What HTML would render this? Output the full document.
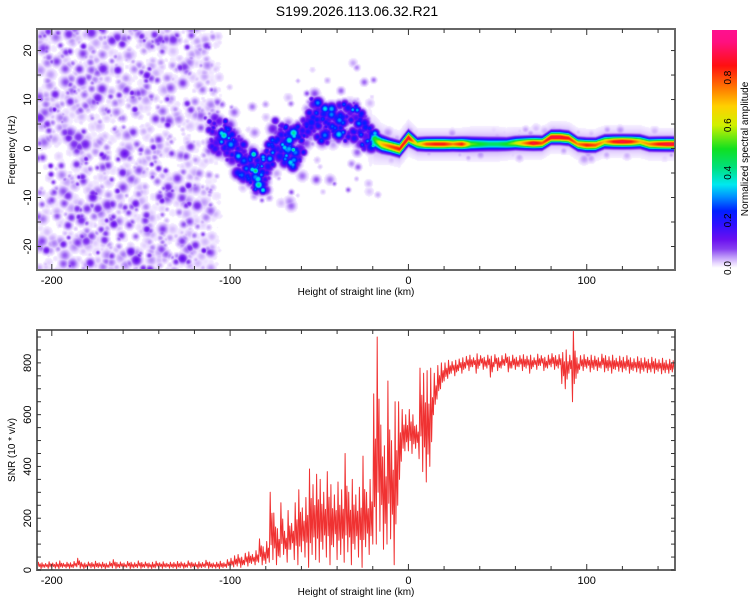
<!DOCTYPE html>
<html><head><meta charset="utf-8"><style>
body{margin:0;background:#fff;width:750px;height:600px;overflow:hidden;position:relative;font-family:"Liberation Sans",sans-serif}
#spec{position:absolute;left:37px;top:29px}
svg{position:absolute;left:0;top:0}
text{font-family:"Liberation Sans",sans-serif;fill:#000}
</style></head><body>
<canvas id="spec" width="638" height="241"></canvas>
<svg id="chart" width="750" height="600">
<defs><linearGradient id="cb" x1="0" y1="1" x2="0" y2="0">
<stop offset="0" stop-color="#ffffff"/><stop offset="0.02" stop-color="#e8d8ff"/><stop offset="0.05" stop-color="#b890f8"/><stop offset="0.08" stop-color="#8840f0"/><stop offset="0.12" stop-color="#6a10f0"/><stop offset="0.18" stop-color="#3010ff"/><stop offset="0.24" stop-color="#0020ff"/><stop offset="0.3" stop-color="#0090ff"/><stop offset="0.35" stop-color="#00e8f0"/><stop offset="0.42" stop-color="#00e080"/><stop offset="0.5" stop-color="#10e020"/><stop offset="0.6" stop-color="#d0f000"/><stop offset="0.68" stop-color="#ffd000"/><stop offset="0.75" stop-color="#ff8000"/><stop offset="0.85" stop-color="#ff1010"/><stop offset="0.95" stop-color="#ff1080"/><stop offset="1" stop-color="#ff1090"/>
</linearGradient>
<clipPath id="bclip"><rect x="37" y="330" width="638" height="240"/></clipPath></defs>
<text x="357" y="16" font-size="14" text-anchor="middle">S199.2026.113.06.32.R21</text>
<g id="top"></g>
<g id="bot"></g>
<rect x="712" y="30" width="25" height="238" fill="url(#cb)"/>
<g id="cbticks"></g>
<text transform="translate(748,149) rotate(-90)" font-size="10" text-anchor="middle">Normalized spectral amplitude</text>
</svg>
<script>
// ---- SNR data (2 km steps from -208 km) ----
const snrStartKm = -208;
const snrStepKm = 2;
const snrHigh = [30,28,25,32,27,30,35,26,30,28,33,45,30,27,31,29,34,28,30,26,32,40,29,31,27,33,30,28,35,29,31,27,30,34,28,32,26,30,29,33,31,27,35,30,28,32,29,38,31,27,30,34,28,40,
45,55,60,50,65,70,60,75,120,90,110,
300,220,160,260,150,230,180,260,310,240,280,390,330,370,350,300,380,330,290,340,310,450,300,350,290,320,440,300,350,680,
900,560,480,730,500,650,650,620,600,620,
600,560,780,760,770,780,760,790,800,800,810,805,810,815,820,
825,830,820,835,828,822,830,826,832,820,828,835,824,830,822,828,832,826,830,820,834,828,822,830,836,828,832,
840,850,830,930,820,
828,832,822,830,826,820,834,828,824,830,818,826,822,828,820,816,824,818,820,814,822,816,812,818,810,814,808,812];
const snrLow = [8,5,10,6,9,7,5,10,8,6,9,12,7,5,10,8,6,9,7,5,10,8,6,9,7,10,5,8,9,6,10,7,5,8,9,6,10,7,8,5,9,6,10,8,7,5,9,10,6,8,7,5,9,10,
10,12,15,10,20,15,25,20,30,20,25,
30,40,20,50,60,30,80,40,20,70,50,10,60,40,30,80,50,20,90,40,60,30,70,20,80,50,10,90,60,100,
100,150,80,100,120,20,250,420,460,460,
450,470,430,380,340,400,600,660,700,730,740,760,750,770,760,
780,770,785,760,790,775,780,745,785,770,780,790,765,780,775,785,770,780,760,785,775,790,770,780,785,775,780,
720,700,760,650,740,
775,770,780,765,775,770,780,765,770,760,775,768,765,772,760,770,765,760,768,762,765,760,768,758,762,760,765,758];

// ---- Spectrogram ridge data (5 km steps from -110 km) ----
const ridgeKm = [-110,-105,-100,-95,-90,-85,-80,-75,-70,-65,-60,-55,-50,-45,-40,-35,-30,-25,-20,-15,-10,-5,0,5,10,15,20,25,30,35,40,45,50,55,60,65,70,75,80,85,90,95,100,105,110,115,120,125,130,135,140,145,150];
const ridgeHz = [3,2.5,1,-1.5,-3.5,-5,-4.5,2.5,1,0,2,7,5.5,4,5.5,5.5,5.5,4,2,1,0.5,0,2.3,1,1,1,1,1,1,1,1,1,1,1,1.2,1.2,1.2,1.2,2.4,2.4,2.2,1,0.8,0.8,1.5,1.5,1.5,1.5,1.5,1,1,1,1];
const ridgeAmp = [.2,.4,.3,.35,.3,.45,.3,.3,.35,.4,.25,.2,.3,.3,.35,.3,.3,.3,.45,.7,.8,.85,.9,.6,.8,.85,.85,.75,.85,.55,.5,.45,.45,.5,.6,.75,.9,.8,.9,.9,.85,.75,.85,.8,.7,.85,.9,.85,.7,.75,.85,.9,.9];
const ridgeSpreadHz = [3,3,3,3,3,3,3,3,3,3,3,3,3,3,3,3,3,3,1.1,0.9,0.8,0.8,0.8,0.7,0.7,0.7,0.7,0.7,0.7,0.75,0.75,0.75,0.75,0.7,0.7,0.7,0.7,0.7,0.7,0.7,0.7,0.7,0.7,0.7,0.7,0.7,0.7,0.7,0.7,0.7,0.7,0.7,0.7];

const xTicks = [-200,-100,0,100];
const freqTicks = [-20,-10,0,10,20];
const snrTicks = [0,200,400,600,800];
const cbTicks = [0,0.2,0.4,0.6,0.8];

const NS='http://www.w3.org/2000/svg';
const X0=37,X1=675, KM0=-208.3, KM1=149.5;
const xs = km => X0 + (km-KM0)/(KM1-KM0)*(X1-X0);
const T0=29,T1=270, F0=24.4, F1=-24.8;
const yf = hz => T0 + (F0-hz)/(F0-F1)*(T1-T0);
const B0=330,B1=570, S0=0, S1=927;
const ysn = v => B1 - (v-S0)/(S1-S0)*(B1-B0);

function el(tag, attrs, parent){const e=document.createElementNS(NS,tag);for(const k in attrs)e.setAttribute(k,attrs[k]);parent.appendChild(e);return e;}

// ---------- spectrogram ----------
const cv=document.getElementById('spec'), ctx=cv.getContext('2d');
const W=638,H=241, F=new Float32Array(W*H);
function blob(cx,cy,r,a){const R=Math.ceil(r*2.5);for(let y=Math.max(0,Math.floor(cy-R));y<Math.min(H,cy+R);y++)for(let x=Math.max(0,Math.floor(cx-R));x<Math.min(W,cx+R);x++){const d=((x-cx)**2+(y-cy)**2)/(2*r*r);const v=a*Math.exp(-d);const i=y*W+x;if(v>F[i])F[i]=v;}}
let seed=12345;const rnd=()=>{seed=(seed*1103515245+12345)&0x7fffffff;return seed/0x7fffffff;};
function interp(arr,km){if(km<=ridgeKm[0])return arr[0];for(let i=0;i<ridgeKm.length-1;i++){if(km<=ridgeKm[i+1]){const t=(km-ridgeKm[i])/(ridgeKm[i+1]-ridgeKm[i]);return arr[i]*(1-t)+arr[i+1]*t;}}return arr[arr.length-1];}
// background speckle
for(let n=0;n<1500;n++){const km=-208+rnd()*104;const hz=-25+rnd()*50;const fade=km>-118?(-104-km)/14:1;if(fade<=0)continue;blob(xs(km)-X0,yf(hz)-T0,1.6+rnd()*2.2,(0.012+rnd()*rnd()*0.12)*Math.min(1,fade*1.5));}
// blobby structure around ridge (signal onset region)
for(let n=0;n<700;n++){const km=-112+rnd()*95;const s=interp(ridgeSpreadHz,km);const hz=interp(ridgeHz,km)+(rnd()-0.5)*2.6*s;const a=interp(ridgeAmp,km);blob(xs(km)-X0,yf(hz)-T0,1.6+rnd()*2.4,0.04+rnd()*rnd()*a*1.1);}
for(let n=0;n<90;n++){const km=-112+rnd()*95;const hz=interp(ridgeHz,km)+(rnd()-0.5)*28;blob(xs(km)-X0,yf(hz)-T0,1.5+rnd()*2,0.02+rnd()*0.06);}
for(let n=0;n<90;n++){const km=-20+rnd()*170;const hz=interp(ridgeHz,km)+(rnd()-0.5)*6;blob(xs(km)-X0,yf(hz)-T0,2+rnd()*2,0.02+rnd()*0.03);}
// bright spots along onset ridge
for(let n=0;n<45;n++){const km=-108+rnd()*90;const hz=interp(ridgeHz,km)+(rnd()-0.5)*3;blob(xs(km)-X0,yf(hz)-T0,2+rnd()*1.5,interp(ridgeAmp,km)*(0.6+rnd()*0.5));}
// continuous ridge (after onset)
const pxPerHz=(T1-T0)/(F0-F1);
for(let x=0;x<W;x++){const km=KM0+(x+0.5)/(X1-X0)*(KM1-KM0);if(km<-24)continue;const fade=Math.min(1,(km+24)/5);const hz=interp(ridgeHz,km),a=interp(ridgeAmp,km)*fade,s=interp(ridgeSpreadHz,km)*pxPerHz;const cy=yf(hz)-T0;
 for(let y=0;y<H;y++){const d=(y-cy);let v=a*Math.exp(-d*d/(2*s*s));const h=0.045*fade*Math.exp(-d*d/(2*(2.6*s)**2));if(h>v)v=h;const i=y*W+x;if(v>F[i])F[i]=v;}}
const stops=[[0,255,255,255],[0.02,232,216,255],[0.05,184,144,248],[0.08,136,64,240],[0.12,106,16,240],[0.18,48,16,255],[0.24,0,32,255],[0.3,0,144,255],[0.35,0,232,240],[0.42,0,224,128],[0.5,16,224,32],[0.6,208,240,0],[0.68,255,208,0],[0.75,255,128,0],[0.85,255,16,16],[0.95,255,16,128],[1,255,16,144]];
function cmap(v){if(v<=0.008)return[255,255,255];for(let i=0;i<stops.length-1;i++){if(v<=stops[i+1][0]){const t=(v-stops[i][0])/(stops[i+1][0]-stops[i][0]);return[0,1,2].map(k=>stops[i][k+1]*(1-t)+stops[i+1][k+1]*t);}}return stops[stops.length-1].slice(1);}
const img=ctx.createImageData(W,H);for(let i=0;i<W*H;i++){const c=cmap(F[i]);img.data[i*4]=c[0];img.data[i*4+1]=c[1];img.data[i*4+2]=c[2];img.data[i*4+3]=255;}ctx.putImageData(img,0,0);

// ---------- axes ----------
function axes(g,top,bot,yTicks,yfun,minorY,yTitle,yTitleY){
 const fr=el('rect',{x:X0,y:top,width:X1-X0,height:bot-top,fill:'none',stroke:'#666','stroke-width':2},g);
 
 for(let km=-200;km<=140;km+=20){const x=xs(km);const L=(km%100===0)?6:4;
  el('line',{x1:x,y1:bot,x2:x,y2:bot-L,stroke:'#333'},g);el('line',{x1:x,y1:top,x2:x,y2:top+L,stroke:'#333'},g);}
 for(const v of minorY){const y=yfun(v);el('line',{x1:X0,y1:y,x2:X0+4,y2:y,stroke:'#333'},g);el('line',{x1:X1,y1:y,x2:X1-4,y2:y,stroke:'#333'},g);}
 for(const k of xTicks){const t=el('text',{x:xs(k),y:bot+14,'font-size':11,'text-anchor':'middle'},g);t.textContent=k;
  }
 for(const v of yTicks){const y=yfun(v);const t=el('text',{transform:`translate(${X0-6},${y}) rotate(-90)`,'font-size':11,'text-anchor':'middle'},g);t.textContent=v;
  }
 const xt=el('text',{x:356,y:bot+25,'font-size':10,'text-anchor':'middle'},g);xt.textContent='Height of straight line (km)';
 
 const yt=el('text',{transform:`translate(15,${yTitleY}) rotate(-90)`,'font-size':10,'text-anchor':'middle'},g);yt.textContent=yTitle;
 
}
const mf=[];for(let v=-20;v<=20;v+=5)mf.push(v);
axes(document.getElementById('top'),T0,T1,freqTicks,yf,mf,'Frequency (Hz)',150);
const ms=[];for(let v=0;v<=900;v+=50)ms.push(v);
const bg=document.getElementById('bot');
// SNR line: each 2-km sample spans lo -> hi -> partial swings
let d='';for(let i=0;i<snrHigh.length;i++){const km=snrStartKm+i*snrStepKm;const lo=snrLow[i],hi=snrHigh[i],r=hi-lo;
 const pts=[[km,lo],[km+0.5,hi],[km+1,lo+r*0.25],[km+1.5,lo+r*0.7]];
 for(let j=0;j<pts.length;j++){d+=((i||j)?'L':'M')+xs(pts[j][0]).toFixed(1)+','+ysn(pts[j][1]).toFixed(1);}}
const ln=el('path',{d:d,fill:'none',stroke:'#f03232','stroke-width':1,'stroke-linejoin':'round','clip-path':'url(#bclip)'},bg);

axes(bg,B0,B1,snrTicks,ysn,ms,'SNR (10 * v/v)',450);
// colorbar ticks
const cg=document.getElementById('cbticks');
for(const v of cbTicks){const y=268-v*238;const t=el('text',{transform:`translate(731,${y}) rotate(-90)`,'font-size':10,'text-anchor':'middle'},cg);t.textContent=v.toFixed(1);
 }
</script>
</body></html>
